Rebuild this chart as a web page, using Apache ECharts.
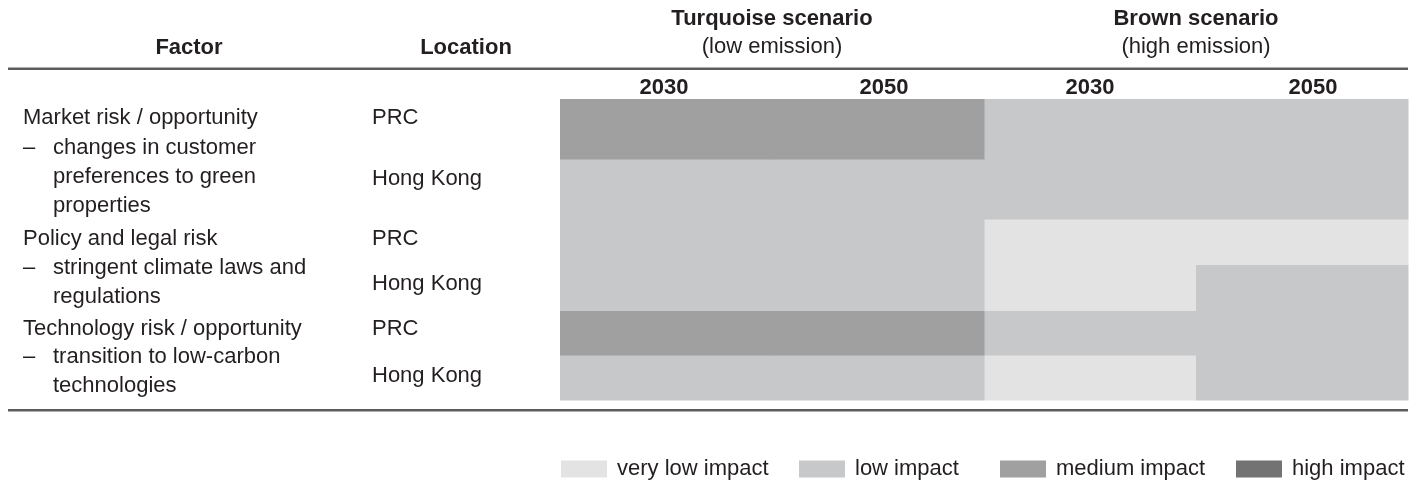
<!DOCTYPE html>
<html>
<head>
<meta charset="utf-8">
<script src="https://cdn.jsdelivr.net/npm/echarts@6/dist/echarts.min.js"></script>
<style>
html,body{margin:0;padding:0;background:#fff;}
#chart{width:1420px;height:494px;}
</style>
</head>
<body>
<div id="chart"></div>
<script>
// ---- data ----
const yearLabels = ['2030', '2050', '2030', '2050'];
const scenarioTitles = ['Turquoise scenario', 'Brown scenario'];
const scenarioSubtitles = ['(low emission)', '(high emission)'];
const impactLevels = ['very low impact', 'low impact', 'medium impact', 'high impact'];
const rowNames = ['Market PRC', 'Market Hong Kong', 'Policy PRC', 'Policy Hong Kong', 'Technology PRC', 'Technology Hong Kong'];
const locations = ['PRC', 'Hong Kong', 'PRC', 'Hong Kong', 'PRC', 'Hong Kong'];
// impact level index per column (Turquoise 2030, Turquoise 2050, Brown 2030, Brown 2050)
const marketPRC = [2, 2, 1, 1];
const marketHK = [1, 1, 1, 1];
const policyPRC = [1, 1, 0, 0];
const policyHK = [1, 1, 0, 1];
const technologyPRC = [2, 2, 1, 1];
const technologyHK = [1, 1, 0, 1];
const factorLines = [
  ['Market risk / opportunity', '–', 'changes in customer', 'preferences to green', 'properties'],
  ['Policy and legal risk', '–', 'stringent climate laws and', 'regulations'],
  ['Technology risk / opportunity', '–', 'transition to low-carbon', 'technologies']
];

// ---- layout / style ----
const levelColors = ['#e3e3e3', '#c7c8ca', '#a0a0a0', '#737373'];
const rowHeights = [60, 60, 46, 46, 44, 45];
const FONT = '"Liberation Sans", Arial, Helvetica, sans-serif';
const TXT = '#231f20';
const FS = 22;

const rowMatrix = [marketPRC, marketHK, policyPRC, policyHK, technologyPRC, technologyHK];
const rowStart = [];
let acc = 0;
rowHeights.forEach(h => { rowStart.push(acc); acc += h; });
const yTotal = acc;

const seriesData = impactLevels.map(() => []);
rowMatrix.forEach((vals, r) => {
  vals.forEach((lv, c) => { seriesData[lv].push([c, r]); });
});

function renderCell(params, api) {
  const c = api.value(0), r = api.value(1);
  const center = api.coord([c, 0]);
  const w = api.size([1, 0])[0];
  const y0 = api.coord([c, rowStart[r]])[1];
  const y1 = api.coord([c, rowStart[r] + rowHeights[r]])[1];
  return {
    type: 'rect',
    shape: { x: center[0] - w / 2, y: Math.min(y0, y1), width: w + 0.5, height: Math.abs(y1 - y0) + 0.5 },
    style: { fill: api.visual('color') }
  };
}

const series = impactLevels.map((name, i) => ({
  type: 'custom',
  name: name,
  color: levelColors[i],
  renderItem: renderCell,
  data: seriesData[i],
  encode: { x: 0, y: 1 },
  silent: true
}));

// graphics
const g = [];
function txt(x, y, s, opts) {
  g.push(Object.assign({
    type: 'text', x: x, y: y, silent: true,
    style: Object.assign({ text: s, font: FS + 'px ' + FONT, fill: TXT, textAlign: 'left', textVerticalAlign: 'middle' }, opts || {})
  }));
}
function boldFont() { return 'bold ' + FS + 'px ' + FONT; }
txt(189, 48, 'Factor', { font: boldFont(), textAlign: 'center' });
txt(466, 48, 'Location', { font: boldFont(), textAlign: 'center' });
const scenCenters = [772, 1196];
scenarioTitles.forEach((t, i) => {
  txt(scenCenters[i], 19, t, { font: boldFont(), textAlign: 'center' });
  txt(scenCenters[i], 47, scenarioSubtitles[i], { textAlign: 'center' });
});
// factor text
const factorY = [[118, 148, 177, 206], [239, 268, 297], [329, 357, 386]];
factorLines.forEach((lines, k) => {
  const ys = factorY[k];
  txt(23, ys[0], lines[0]);
  txt(23, ys[1], lines[1]);
  for (let j = 2; j < lines.length; j++) txt(53, ys[j - 1], lines[j]);
});
const locY = [118, 179, 239, 284, 329, 376];
locations.forEach((l, i) => txt(372, locY[i], l));
// rules
g.push({ type: 'rect', silent: true, shape: { x: 8, y: 67.5, width: 1400, height: 2.5 }, style: { fill: '#5c5c5c' } });
g.push({ type: 'rect', silent: true, shape: { x: 8, y: 409, width: 1400, height: 2.5 }, style: { fill: '#5c5c5c' } });

const legendLefts = [561, 799, 1000, 1236];
const legends = impactLevels.map((name, i) => ({
  data: [name],
  left: legendLefts[i],
  top: 458,
  padding: 0,
  itemWidth: 46,
  itemHeight: 17,
  itemGap: 0,
  icon: 'rect',
  selectedMode: false,
  textStyle: { fontFamily: FONT, fontSize: FS, color: TXT, padding: [0, 0, 0, 5] }
}));

const yearShift = [[0, 4, 0, 0], [0, 0, 0, 12], [0, 0, 0, 0], [0, 0, 0, 22]];
const rich = {};
yearShift.forEach((p, i) => { rich['y' + i] = { fontFamily: FONT, fontSize: FS, fontWeight: 'bold', color: TXT, padding: p }; });

const chart = echarts.init(document.getElementById('chart'), null, { renderer: 'canvas' });
chart.setOption({
  animation: false,
  backgroundColor: '#ffffff',
  grid: { left: 560, right: 12, top: 99, bottom: 94 },
  xAxis: {
    type: 'category',
    data: yearLabels,
    position: 'top',
    axisLine: { show: false },
    axisTick: { show: false },
    splitLine: { show: false },
    axisLabel: {
      margin: 0,
      formatter: (v, i) => '{y' + i + '|' + v + '}',
      rich: rich
    }
  },
  yAxis: {
    type: 'value',
    inverse: true,
    min: 0,
    max: yTotal,
    show: false
  },
  legend: legends,
  series: series,
  graphic: g
});
</script>
</body>
</html>
